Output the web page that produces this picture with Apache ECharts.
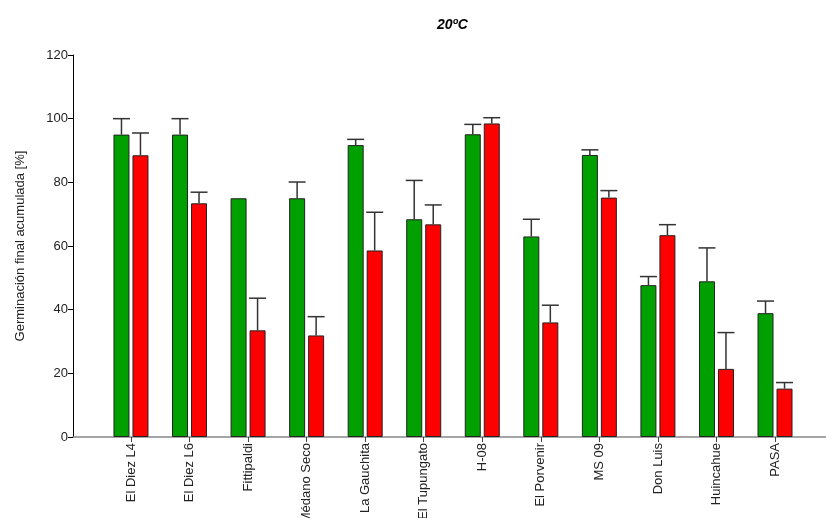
<!DOCTYPE html>
<html>
<head>
<meta charset="utf-8">
<script src="https://cdn.jsdelivr.net/npm/echarts@6/dist/echarts.min.js"></script>
<style>html,body{margin:0;padding:0;background:#fff}#c{width:826px;height:518px}</style>
</head>
<body>
<div id="c"></div>
<script>
var categories = ['El Diez L4','El Diez L6','Fittipaldi','Médano Seco','La Gauchita','El Tupungato','H-08','El Porvenir','MS 09','Don Luis','Huincahue','PASA'];
var greenValues = [95, 95, 75, 75, 91.7, 68.4, 95.1, 63, 88.6, 47.7, 48.9, 38.9];
var greenErr    = [5, 5, 0, 5.1, 1.8, 12.2, 3.1, 5.4, 1.6, 2.7, 10.5, 3.8];
var redValues   = [88.5, 73.4, 33.5, 31.9, 58.6, 66.8, 98.5, 36, 75.2, 63.4, 21.4, 15.2];
var redErr      = [7, 3.5, 10.1, 5.9, 12, 6.1, 1.8, 5.4, 2.2, 3.3, 11.4, 1.9];
var yTicks = [0, 20, 40, 60, 80, 100, 120];

var FONT = 'Arial, "Liberation Sans", sans-serif';
var BAR_W = 16, BAR_GAP = 3, CAP_W = 17;

function errSeries(values, errs, offset) {
  var data = values.map(function (v, i) { return [i, v, v + errs[i], errs[i]]; });
  return {
    type: 'custom', xAxisIndex: 1, yAxisIndex: 1, z: 5,
    data: data,
    renderItem: function (params, api) {
      if (api.value(3) <= 0) return null;
      var lo = api.coord([api.value(0), api.value(1)]);
      var hi = api.coord([api.value(0), api.value(2)]);
      var x = lo[0] + offset;
      var st = { stroke: '#333', lineWidth: 1.5 };
      return { type: 'group', children: [
        { type: 'line', shape: { x1: x, y1: lo[1], x2: x, y2: hi[1] }, style: st },
        { type: 'line', shape: { x1: x - CAP_W / 2, y1: hi[1], x2: x + CAP_W / 2, y2: hi[1] }, style: st }
      ]};
    }
  };
}

var chart = echarts.init(document.getElementById('c'), null, { renderer: 'canvas' });
chart.setOption({
  animation: false,
  backgroundColor: '#fff',
  title: {
    text: '20ºC', left: 432, top: 13,
    textStyle: { fontFamily: FONT, fontSize: 14, fontWeight: 'bold', fontStyle: 'italic', color: '#000' }
  },
  grid: [
    { left: 73, right: 0, top: 55, bottom: 81, containLabel: false, outerBoundsMode: 'none' },
    { left: 101.7, width: 702.6, top: 55, bottom: 81, containLabel: false, outerBoundsMode: 'none' }
  ],
  xAxis: [
    { type: 'value', gridIndex: 0, min: 0, max: 1, axisLine: { show: true, lineStyle: { color: '#888', width: 1.5 } },
      axisTick: { show: false }, axisLabel: { show: false }, splitLine: { show: false } },
    { type: 'category', gridIndex: 1, data: categories,
      axisLine: { show: false },
      axisTick: { show: true, alignWithLabel: true, length: 5, lineStyle: { color: '#444' } },
      axisLabel: { interval: 0, rotate: 90, margin: 6, fontFamily: FONT, fontSize: 13, color: '#222' } }
  ],
  yAxis: [
    { type: 'value', gridIndex: 0, min: 0, max: 120, interval: 20,
      name: 'Germinación final acumulada [%]', nameLocation: 'middle', nameGap: 46,
      nameTextStyle: { fontFamily: FONT, fontSize: 13, color: '#222' },
      axisLine: { show: true, lineStyle: { color: '#000', width: 1 } },
      axisTick: { show: true, length: 5, lineStyle: { color: '#000' } },
      axisLabel: { fontFamily: FONT, fontSize: 13, color: '#222', margin: 5,
        formatter: function (v) { return yTicks.indexOf(v) >= 0 ? String(v) : ''; } },
      splitLine: { show: false } },
    { type: 'value', gridIndex: 1, min: 0, max: 120, interval: 20, show: false }
  ],
  series: [
    { type: 'bar', xAxisIndex: 1, yAxisIndex: 1, data: greenValues, barWidth: BAR_W, barGap: (BAR_GAP / BAR_W * 100) + '%',
      itemStyle: { color: '#00a000', borderColor: '#222', borderWidth: 1 } },
    { type: 'bar', xAxisIndex: 1, yAxisIndex: 1, data: redValues, barWidth: BAR_W,
      itemStyle: { color: '#ff0000', borderColor: '#222', borderWidth: 1 } },
    errSeries(greenValues, greenErr, -(BAR_W + BAR_GAP) / 2),
    errSeries(redValues, redErr, (BAR_W + BAR_GAP) / 2)
  ]
});
</script>
</body>
</html>
